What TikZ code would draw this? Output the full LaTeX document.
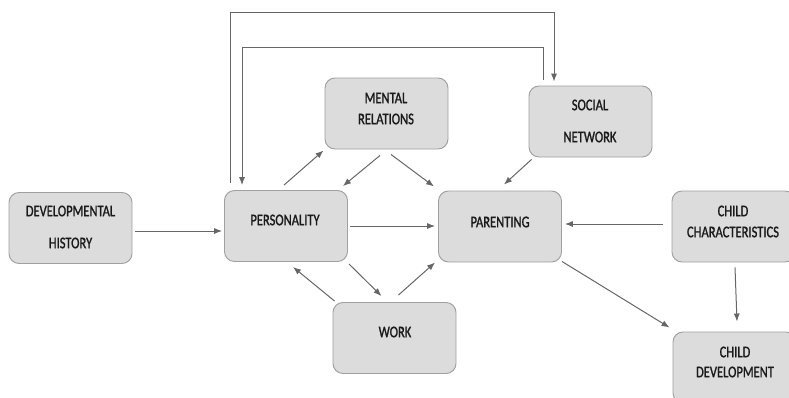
\documentclass[tikz,border=0pt]{standalone}
\usepackage{fontspec}
\newfontfamily\boxfont[FakeStretch=0.77,FakeBold=1.2]{Carlito}
\usetikzlibrary{arrows.meta,calc}
\definecolor{boxfill}{HTML}{DCDCDC}
\definecolor{boxline}{HTML}{A0A0A0}
\definecolor{arrcol}{HTML}{666666}
\definecolor{txtcol}{HTML}{1A1A1A}
\tikzset{
  box/.style={draw=boxline, fill=boxfill, line width=0.7pt, rounded corners=7.5pt,
    minimum width=92.25pt, minimum height=53.25pt, inner sep=0pt},
  lbl/.style={font=\boxfont\fontsize{12.2pt}{15pt}\selectfont, text=txtcol, inner sep=0pt, align=center},
  arr/.style={draw=arrcol, line width=0.75pt, -{Latex[length=6pt,width=4.6pt]}}
}
\begin{document}
\begin{tikzpicture}[x=0.75pt,y=-0.75pt]
\useasboundingbox (0,0) rectangle (789,397);
\clip (0,0) rectangle (789,397);
% boxes
\node[box] (dev) at (70.5,228) {};
\node[box] (pers) at (286,226) {};
\node[box] (ment) at (386.5,113.5) {};
\node[box] (soc) at (590.5,121.5) {};
\node[box] (par) at (500,226.5) {};
\node[box] (chch) at (733.5,226.5) {};
\node[box] (chdev) at (734.5,367.5) {};
\node[box] (work) at (394.5,338) {};
% texts
\node[lbl] (devA) at (70.5,211) {DEVELOPMENTAL};
\node[lbl] (devB) at (70.5,243) {HISTORY};
\node[lbl] (persA) at (285,220) {PERSONALITY};
\node[lbl] (mentA) at (386,98) {MENTAL};
\node[lbl] (mentB) at (386,119) {RELATIONS};
\node[lbl] (socA) at (590,105) {SOCIAL};
\node[lbl] (socB) at (590,137) {NETWORK};
\node[lbl] (parA) at (500,222) {PARENTING};
\node[lbl] (chchA) at (733,211) {CHILD};
\node[lbl] (chchB) at (733,232) {CHARACTERISTICS};
\node[lbl] (chdevA) at (735,352) {CHILD};
\node[lbl] (chdevB) at (735,372) {DEVELOPMENT};
\node[lbl] (workA) at (395,332) {WORK};
% loop corner coordinates
\coordinate (o2) at (554,12);
\coordinate (i2) at (242,47);
% connectors
\draw[arr] ($(dev.east)+(3,3)$) -- ($(pers.west)+(-2,5)$);
\draw[arr] ($(pers.east)+(2,0)$) -- ($(par.west)+(-3,-0.5)$);
\draw[arr] ($(chch.west)+(-9,-2.5)$) -- ($(par.east)+(3,-2.5)$);
\draw[arr] ($(chch.south)+(1.5,5)$) -- ($(chdev.north)+(2.5,-10)$);
\draw[arr] ($(par.south east)+(0,-1)$) -- ($(chdev.north west)+(-3,-4)$);
\draw[arr] ($(pers.north)+(-2,-5)$) -- ($(ment.south west)+(-1,1)$);
\draw[arr] ($(ment.south)+(-6.5,6)$) -- ($(pers.north east)+(-5,-4)$);
\draw[arr] ($(ment.south)+(4.5,5)$) -- ($(par.north west)+(-4,-4)$);
\draw[arr] ($(soc.south west)+(3,2)$) -- ($(par.north)+(4,-6)$);
\draw[arr] ($(pers.south east)+(1,2)$) -- ($(work.north)+(-13,-6)$);
\draw[arr] ($(work.north west)+(2,-1)$) -- ($(pers.south)+(7,5)$);
\draw[arr] ($(work.north)+(4,-7)$) -- ($(par.south west)+(-3,0)$);
\draw[arr] ($(pers.north west)+(6,-7)$) |- (o2) -- ($(soc.north)+(-36.5,-4)$);
\draw[arr] ($(soc.north)+(-47.5,-6)$) |- (i2) -- ($(pers.north)+(-44,-5)$);
\end{tikzpicture}
\end{document}
